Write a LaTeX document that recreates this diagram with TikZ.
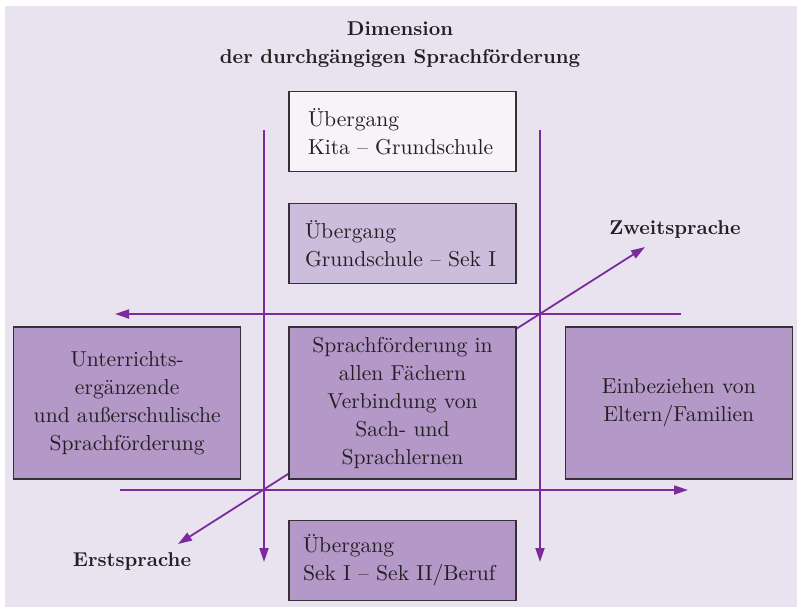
\documentclass[tikz,border=0pt]{standalone}
\usetikzlibrary{positioning,arrows.meta}
\definecolor{bgviolet}{HTML}{E9E3EF}
\definecolor{paleviolet}{HTML}{F6F4F8}
\definecolor{midviolet}{HTML}{CDBDDD}
\definecolor{darkviolet}{HTML}{B498C7}
\definecolor{axisviolet}{HTML}{7B2C9C}
\definecolor{boxline}{HTML}{353035}
\definecolor{inktext}{HTML}{231F22}
\begin{document}
\begin{tikzpicture}[x=0.5pt, y=-0.5pt, every node/.style={font=\fontsize{10.8}{14}\selectfont, text=inktext}]

% Define the node styles
\tikzstyle{box}=[rectangle, draw=boxline, line width=0.65pt, minimum width=113.5pt, minimum height=76pt, align=center, inner sep=0pt]
\tikzstyle{stage}=[box, minimum height=40pt, inner xsep=8pt, text width=97.5pt, align=left]
\tikzstyle{axis}=[draw=axisviolet, line width=0.9pt, -{Triangle[length=7pt, width=4.5pt]}]
\tikzstyle{language}=[font=\fontsize{10}{14}\selectfont\bfseries]

% Background
\fill[white] (0,0) rectangle (797,607);
\fill[bgviolet] (5,6) rectangle (797,607);

% Define the axis end points
\coordinate (erst) at (178,544);
\coordinate (zweit) at (645,247);
\coordinate (leftstart) at (264,130);
\coordinate (leftend) at (264,562);
\coordinate (rightstart) at (540,130);
\coordinate (rightend) at (540,562);
\coordinate (topstart) at (681,314);
\coordinate (topend) at (115,314);
\coordinate (bottomstart) at (120,490);
\coordinate (bottomend) at (688,490);

% Diagonal behind the boxes
\draw[axis, {Triangle[length=7pt, width=4.5pt]}-{Triangle[length=7pt, width=4.5pt]}] (erst) -- (zweit);

% Define the nodes
\node[language, align=center] (title) at (400,45) {Dimension\\der durchgängigen Sprachförderung};
\node[box, fill=darkviolet] (center) at (402.5,403) {Sprachförderung in\\allen Fächern\\Verbindung von\\Sach- und\\Sprachlernen};
\node[stage, fill=midviolet, above=21pt of center] (sekone) {Übergang\\Grundschule -- Sek I};
\node[stage, fill=paleviolet, inner xsep=9.5pt, text width=94.5pt, above=15.5pt of sekone] (kita) {Übergang\\Kita -- Grundschule};
\node[stage, fill=darkviolet, inner xsep=7pt, text width=99.5pt, below=20pt of center] (beruf) {Übergang\\Sek I -- Sek II/Beruf};
\node[box, fill=darkviolet, left=23.5pt of center] (extra) {Unterrichts-\\ergänzende\\und außerschulische\\Sprachförderung};
\node[box, fill=darkviolet, right=24pt of center] (eltern) {Einbeziehen von\\Eltern/Familien};
\node[language] (zweitlabel) at (675,229) {Zweitsprache};
\node[language] (erstlabel) at (132,561) {Erstsprache};

% Add the axes
\draw[axis] (leftstart) -- (leftend);
\draw[axis] (rightstart) -- (rightend);
\draw[axis] (topstart) -- (topend);
\draw[axis] (bottomstart) -- (bottomend);

\end{tikzpicture}
\end{document}
